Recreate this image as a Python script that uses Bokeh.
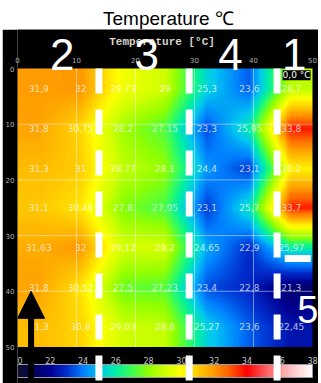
import numpy as np
from bokeh.plotting import figure
from bokeh.layouts import column
from bokeh.models import (Range1d, LinearColorMapper, ColorBar, FixedTicker,
                          Label, Arrow, NormalHead)
from bokeh.embed import file_html
from bokeh.resources import INLINE
from bokeh.core.properties import value

# ---------------- data ----------------
page_title = "Temperature ℃"
inner_title = "Temperature [°C]"
sensor_x = [3.6, 10.7, 17.9, 25.0, 32.1, 39.3, 46.4]
sensor_y = [3.6, 10.7, 17.9, 25.0, 32.1, 39.3, 46.4]
row0 = [31.9, 32.0, 29.73, 29.0, 25.3, 23.6, 28.7]
row1 = [31.8, 30.75, 28.2, 27.15, 23.3, 25.95, 33.8]
row2 = [31.3, 31.0, 28.77, 28.1, 24.4, 23.1, 30.2]
row3 = [31.1, 30.48, 27.8, 27.05, 23.1, 25.7, 33.7]
row4 = [31.63, 32.0, 29.12, 29.2, 24.65, 22.9, 25.97]
row5 = [31.8, 30.52, 27.5, 27.23, 23.4, 22.8, 21.3]
row6 = [31.3, 30.8, 29.03, 28.8, 25.27, 23.6, 22.45]
temps = [row0, row1, row2, row3, row4, row5, row6]
axis_ticks = [0, 10, 20, 30, 40, 50]
grid_ticks = [10, 20, 30, 40]
cb_ticks = [20, 22, 24, 26, 28, 30, 32, 34, 36, 38]
cb_low, cb_high = 20, 38
zone_names = ["2", "3", "4", "1"]
zone_x = [7.6, 21.9, 36.1, 46.9]
zone_label_y = -2.6
zone5_name = "5"
zone5_pos = (49.2, 43.2)
zone_bounds = [13.8, 29.1, 44.0]
zone5_bar = (45.3, 49.7, 34.1)
arrow_x, arrow_tip = 2.3, 40.0
corner_text = "0,0 °C"

# palette anchors (style)
anchor_vals = [20, 21, 22, 23, 24, 25, 26, 27, 28, 29, 30, 31, 32, 33, 34, 35, 36, 37, 38]
anchor_cols = ["#10102a", "#000060", "#000092", "#0030d0", "#0080ff", "#00c8f0", "#00f0a0",
               "#40ff50", "#90ff00", "#d0ff00", "#ffff00", "#ffcc00", "#ff9900", "#ff5a00",
               "#ff0000", "#ff5050", "#ff9a9a", "#ffd0d0", "#ffffff"]


def hex2rgb(h):
    return [int(h[i:i + 2], 16) for i in (1, 3, 5)]


rgb = np.array([hex2rgb(c) for c in anchor_cols], dtype=float)
steps = np.linspace(cb_low, cb_high, 256)
palette = ["#%02x%02x%02x" % tuple(int(round(np.interp(s, anchor_vals, rgb[:, k]))) for k in range(3))
           for s in steps]
mapper = LinearColorMapper(palette=palette, low=cb_low, high=cb_high)

# smooth display field from the sensor grid
T = np.array(temps)
fine = np.linspace(axis_ticks[0], axis_ticks[-1], 251)
rows_i = np.array([np.interp(fine, sensor_x, r) for r in T])
img = np.array([np.interp(fine, sensor_y, rows_i[:, j]) for j in range(len(fine))]).T

# ---------------- layout constants (pixels) ----------------
TITLE_H = 29
FIG_W, FIG_H = 316, 383 - TITLE_H
BORDER_L, BORDER_T = 15, 0
FRAME_W = FIG_W - BORDER_L
FRAME_H = FIG_H - BORDER_T
MAP_W = 295                          # pixels covered by x = 0..50
PX_PER_Y = 5.57
MAP_TOP = 68 - TITLE_H               # frame-px from frame top down to y = 0
x_end = axis_ticks[-1] * FRAME_W / MAP_W
cb_end = cb_low + (cb_high - cb_low) * FRAME_W / MAP_W
y_top = -MAP_TOP / PX_PER_Y
y_bot = (FRAME_H - MAP_TOP) / PX_PER_Y

# ---------------- title figure ----------------
t = figure(width=321, height=TITLE_H, x_range=(0, 1), y_range=(0, 1), toolbar_location=None,
           output_backend="svg", min_border=0, x_axis_type=None, y_axis_type=None,
           outline_line_color=None, background_fill_color="white", border_fill_color="white")
t.grid.visible = False
t.add_layout(Label(x=0.5, y=(TITLE_H - 17.5) / TITLE_H, text=page_title, text_align="center",
                   text_baseline="middle", text_font_size="19px", text_font="Liberation Sans",
                   text_color="black"))

# ---------------- main figure ----------------
p = figure(width=FIG_W, height=FIG_H, x_range=Range1d(0, x_end), y_range=Range1d(y_bot, y_top),
           toolbar_location=None, output_backend="svg", x_axis_location="above",
           min_border_left=BORDER_L, min_border_right=0, min_border_top=BORDER_T, min_border_bottom=0,
           background_fill_color="black", border_fill_color="black", outline_line_color=None)
p.margin = (0, 0, 0, 2)
p.extra_x_ranges = {"cb": Range1d(cb_low, cb_end)}
p.grid.visible = False
for ax in (p.xaxis[0], p.yaxis[0]):
    ax.ticker = FixedTicker(ticks=axis_ticks)
    ax.axis_line_color = None
    ax.major_tick_line_color = None
    ax.minor_tick_line_color = None
    ax.major_tick_out = 0
    ax.major_tick_in = 0
    ax.major_label_text_font = "DejaVu Sans"
    ax.major_label_text_font_size = "7px"
    ax.major_label_text_color = "#b0b0b0"
p.yaxis[0].major_label_standoff = 3
p.xaxis[0].major_label_standoff = -33

hm = p.image(image=[img], x=0, y=0, dw=50, dh=50, color_mapper=mapper)
hm.level = "image"

# grid lines over the map
n = len(grid_ticks)
p.segment(x0=grid_ticks, x1=grid_ticks, y0=[axis_ticks[0]] * n, y1=[axis_ticks[-1]] * n,
          line_color="white", line_alpha=0.45, line_width=1)
p.segment(x0=[axis_ticks[0]] * n, x1=[axis_ticks[-1]] * n, y0=grid_ticks, y1=grid_ticks,
          line_color="white", line_alpha=0.45, line_width=1)

# value labels
xs, ys, txt = [], [], []
for i, r in enumerate(temps):
    for j, v in enumerate(r):
        xs.append(sensor_x[j])
        ys.append(sensor_y[i])
        txt.append(("%g" % v).replace(".", ","))
p.text(x=xs, y=ys, text=txt, text_align="center", text_baseline="middle",
       text_font=value("DejaVu Sans"), text_font_size="9px", text_color="white", text_alpha=0.72)

# colour bar
cb = ColorBar(color_mapper=mapper, orientation="horizontal", location=(0, 6), width=MAP_W, height=13,
              padding=0, margin=0, background_fill_color=None, border_line_color=None,
              bar_line_color="#9a9aa8", bar_line_width=1, major_tick_line_color=None,
              minor_tick_line_color=None, major_label_text_font_size="0px", label_standoff=0,
              ticker=FixedTicker(ticks=[]))
cb.level = "underlay"
p.add_layout(cb, "center")
p.text(x=cb_ticks, y=[52.5] * len(cb_ticks), text=[str(v) for v in cb_ticks], x_range_name="cb",
       text_align="center", text_baseline="middle", text_font=value("DejaVu Sans"),
       text_font_size="8px", text_color="#c4c4c4")

# zone boundaries
m = len(zone_bounds)
p.segment(x0=zone_bounds, x1=zone_bounds, y0=[axis_ticks[0]] * m, y1=[y_bot] * m,
          line_color="white", line_width=7, line_dash="25 16")
p.segment(x0=[zone5_bar[0]], x1=[zone5_bar[1]], y0=[zone5_bar[2]], y1=[zone5_bar[2]],
          line_color="white", line_width=7)

p.add_layout(Label(x=47.3, y=1.2, text=corner_text, text_align="center", text_baseline="middle",
                   text_font="DejaVu Sans", text_font_size="9px", text_color="white",
                   background_fill_color="black"))

p.add_layout(Label(x=24.5, y=-4.67, text=inner_title, text_align="center", text_baseline="middle",
                   text_font="Liberation Mono", text_font_size="11px", text_font_style="bold",
                   text_color="#d6d2c6"))

for name, zx in zip(zone_names, zone_x):
    p.add_layout(Label(x=zx, y=zone_label_y, text=name, text_align="center", text_baseline="middle",
                       text_font="Liberation Sans", text_font_size="44px", text_color="white"))
p.add_layout(Label(x=zone5_pos[0], y=zone5_pos[1], text=zone5_name, text_align="center",
                   text_baseline="middle", text_font="Liberation Sans", text_font_size="38px",
                   text_color="white"))

p.add_layout(Arrow(end=NormalHead(size=27, fill_color="black", line_color="black"),
                   x_start=arrow_x, y_start=y_bot, x_end=arrow_x, y_end=arrow_tip,
                   line_color="black", line_width=6))

layout = column(t, p, spacing=0)
open("out.html", "w").write(file_html(layout, INLINE))
